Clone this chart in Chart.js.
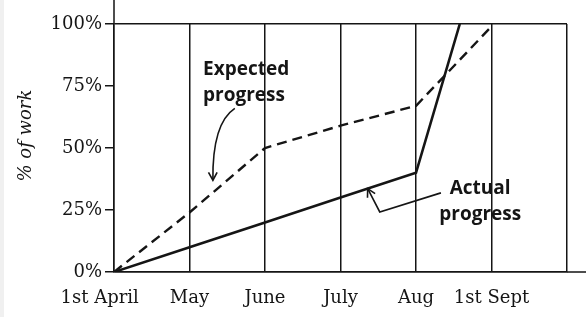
<!DOCTYPE html>
<html>
<head>
<meta charset="utf-8">
<script src="https://cdn.jsdelivr.net/npm/chart.js@4"></script>
<style>
  html, body { margin: 0; padding: 0; background: #fff; }
  canvas { display: block; }
</style>
</head>
<body>
<canvas id="chart" width="586" height="317"></canvas>
<script>
// month positions along the x axis (0 = 1st April)
const monthLabels = ['1st April\u00a0\u00a0\u00a0\u00a0\u00a0', 'May', 'June', 'July', 'Aug', '1st Sept'];
const gridMonths = [0, 1, 2, 3, 4, 5, 6];
const yTicks = [0, 25, 50, 75, 100];

// expected progress (dashed)
const expectedX = [0, 1, 2, 3, 4, 5];
const expectedY = [0, 24, 50, 59, 67, 99];

// actual progress (solid)
const actualX = [0, 1, 2, 3, 4, 4.58];
const actualY = [0, 10, 20, 30, 40, 100];

const ink = '#151515';

// callouts, in data units
const expectedText = { x: 1.18, lines: [[81.5, 'Expected'], [71, 'progress']] };
const expectedArrow = { from: [1.60, 66], ctrl: [1.30, 60], to: [1.31, 37] };
const actualText = { x: 4.85, lines: [[33.8, 'Actual'], [23, 'progress']] };
const actualArrow = [[4.33, 31.9], [3.52, 24.2], [3.36, 33.6]];
const yTitle = { text: '% of work', x: 26, y: 55 };

function arrowHead(ctx, fx, fy, tx, ty, size) {
    const a = Math.atan2(ty - fy, tx - fx);
    ctx.beginPath();
    ctx.moveTo(tx - size * Math.cos(a - 0.5), ty - size * Math.sin(a - 0.5));
    ctx.lineTo(tx, ty);
    ctx.lineTo(tx - size * Math.cos(a + 0.5), ty - size * Math.sin(a + 0.5));
    ctx.stroke();
}

const extras = {
    id: 'extras',
    beforeDraw(chart) {
        const c = chart.ctx;
        c.save();
        c.fillStyle = '#fff';
        c.fillRect(0, 0, chart.width, chart.height);
        c.fillStyle = '#f0f0f0';
        c.fillRect(0, 0, 4, chart.height);
        c.restore();
    },
    afterDraw(chart) {
        const c = chart.ctx;
        const xs = chart.scales.x, ys = chart.scales.y;
        const px = v => xs.getPixelForValue(v);
        const py = v => ys.getPixelForValue(v);
        const area = chart.chartArea;
        c.save();
        c.strokeStyle = ink;
        c.lineWidth = 1.5;
        // axis lines run past the frame
        c.beginPath();
        c.moveTo(area.left, area.top);
        c.lineTo(area.left, 0);
        c.moveTo(area.right, area.bottom);
        c.lineTo(chart.width, area.bottom);
        c.stroke();

        // y axis title, a little above the middle
        c.fillStyle = ink;
        c.save();
        c.translate(yTitle.x, py(yTitle.y));
        c.rotate(-Math.PI / 2);
        c.font = 'italic 18px "DejaVu Serif", serif';
        c.textAlign = 'center';
        c.textBaseline = 'middle';
        c.fillText(yTitle.text, 0, 0);
        c.restore();

        // callout texts
        c.font = 'bold 19px "Open Sans", sans-serif';
        c.textBaseline = 'middle';
        c.textAlign = 'left';
        expectedText.lines.forEach(([y, t]) => c.fillText(t, px(expectedText.x), py(y)));
        c.textAlign = 'center';
        actualText.lines.forEach(([y, t]) => c.fillText(t, px(actualText.x), py(y)));

        // expected arrow (curved)
        const ea = expectedArrow;
        c.lineWidth = 1.6;
        c.beginPath();
        c.moveTo(px(ea.from[0]), py(ea.from[1]));
        c.quadraticCurveTo(px(ea.ctrl[0]), py(ea.ctrl[1]), px(ea.to[0]), py(ea.to[1]));
        c.stroke();
        arrowHead(c, px(ea.ctrl[0]), py(ea.ctrl[1]), px(ea.to[0]), py(ea.to[1]), 9);

        // actual arrow (bent)
        c.beginPath();
        actualArrow.forEach(([x, y], i) => i ? c.lineTo(px(x), py(y)) : c.moveTo(px(x), py(y)));
        c.stroke();
        const n = actualArrow.length;
        arrowHead(c, px(actualArrow[n - 2][0]), py(actualArrow[n - 2][1]),
            px(actualArrow[n - 1][0]), py(actualArrow[n - 1][1]), 9);
        c.restore();
    }
};

const ctx = document.getElementById('chart').getContext('2d');
new Chart(ctx, {
    type: 'line',
    data: {
        datasets: [{
            label: 'Expected progress',
            data: expectedX.map((x, i) => ({ x: x, y: expectedY[i] })),
            borderColor: ink,
            borderWidth: 2.4,
            borderDash: [10, 6],
            pointRadius: 0,
            fill: false
        }, {
            label: 'Actual progress',
            data: actualX.map((x, i) => ({ x: x, y: actualY[i] })),
            borderColor: ink,
            borderWidth: 2.6,
            pointRadius: 0,
            fill: false
        }]
    },
    options: {
        responsive: false,
        animation: false,
        layout: { padding: { top: 24, right: 19, left: 0, bottom: 0 } },
        plugins: {
            legend: { display: false },
            tooltip: { enabled: false }
        },
        scales: {
            x: {
                type: 'linear',
                min: 0,
                max: 6,
                afterBuildTicks: (s) => { s.ticks = gridMonths.map(v => ({ value: v })); },
                afterFit: (s) => { s.height = 45; },
                grid: { color: ink, lineWidth: 1.5, drawTicks: false },
                border: { display: true, color: ink, width: 1.5 },
                ticks: {
                    color: ink,
                    padding: 16,
                    maxRotation: 0,
                    autoSkip: false,
                    font: { family: '"DejaVu Serif", serif', size: 18 },
                    callback: (v) => monthLabels[v] || ''
                }
            },
            y: {
                min: 0,
                max: 100,
                afterBuildTicks: (s) => { s.ticks = yTicks.map(v => ({ value: v })); },
                afterFit: (s) => { s.width = 114; },
                grid: {
                    color: (c) => (c.tick && (c.tick.value === 0 || c.tick.value === 100)) ? ink : 'rgba(0,0,0,0)',
                    tickColor: ink,
                    tickLength: 9,
                    lineWidth: 1.5
                },
                border: { display: true, color: ink, width: 1.5 },
                ticks: {
                    color: ink,
                    padding: 3,
                    font: { family: '"DejaVu Serif", serif', size: 18 },
                    callback: (v) => v + '%'
                }
            }
        }
    },
    plugins: [extras]
});
</script>
</body>
</html>
